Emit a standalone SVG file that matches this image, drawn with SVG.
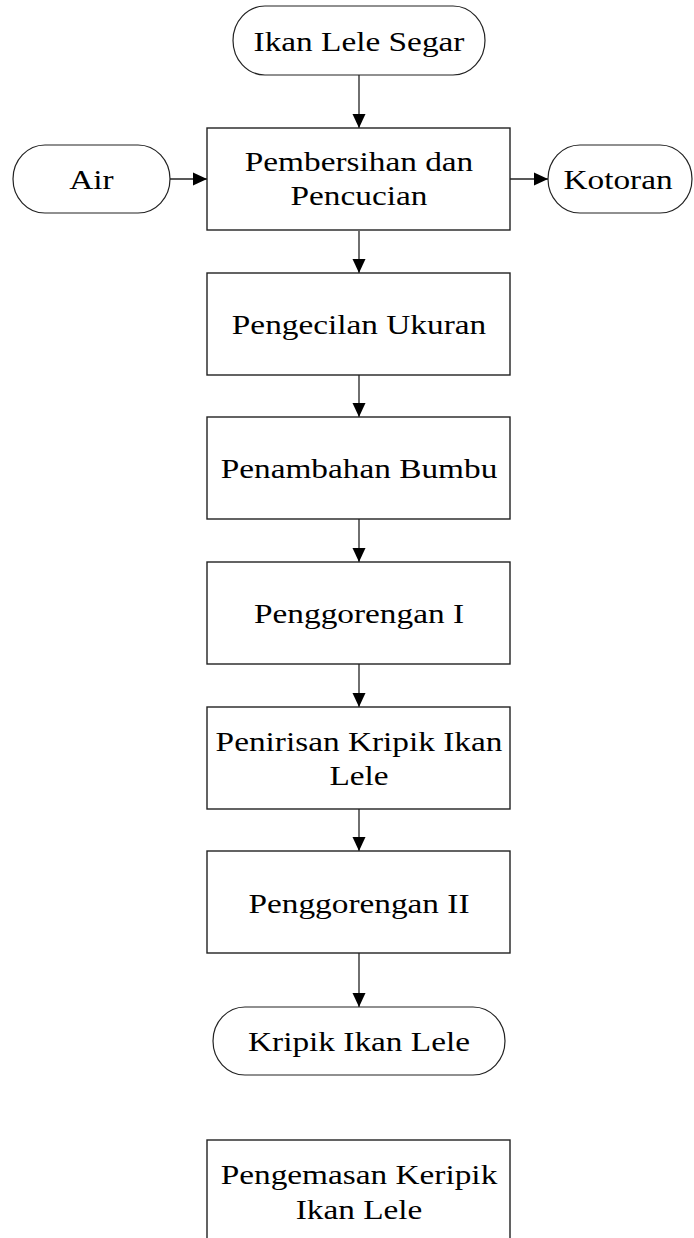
<svg xmlns="http://www.w3.org/2000/svg" width="694" height="1238" viewBox="0 0 694 1238">
<style>
.box{fill:#fff;stroke:#222;stroke-width:1.4}
.term{fill:#fff;stroke:#222;stroke-width:1.2}
.lbl{font-family:"Liberation Serif","Times New Roman",serif;font-size:28px;fill:#000;text-anchor:middle}
.con{stroke:#222;stroke-width:1.3;fill:none;marker-end:url(#ah)}
</style>
<defs>
<marker id="ah" viewBox="0 0 14 14" refX="14" refY="7" markerWidth="14" markerHeight="14" markerUnits="userSpaceOnUse" orient="auto">
<path d="M0,0.5 L14,7 L0,13.5 z" fill="#000"/>
</marker>
</defs>
<rect width="694" height="1238" fill="#fff"/>
<g id="connectors">
<line class="con" x1="359" y1="75" x2="359" y2="128"/>
<line class="con" x1="359" y1="231" x2="359" y2="273"/>
<line class="con" x1="359" y1="375" x2="359" y2="417"/>
<line class="con" x1="359" y1="519" x2="359" y2="562"/>
<line class="con" x1="359" y1="664" x2="359" y2="707"/>
<line class="con" x1="359" y1="809" x2="359" y2="851"/>
<line class="con" x1="359" y1="953" x2="359" y2="1007"/>
<line class="con" x1="170" y1="179" x2="207" y2="179"/>
<line class="con" x1="510" y1="179" x2="548" y2="179"/>
</g>
<g id="n-ikan-lele-segar">
<rect class="term" x="233" y="6" width="252" height="69" rx="32" ry="34.5"/>
<text class="lbl" transform="translate(359,50.5) scale(1.19,1)" x="0" y="0">Ikan Lele Segar</text>
</g>
<g id="n-air">
<rect class="term" x="13" y="145" width="157" height="68" rx="32" ry="34"/>
<text class="lbl" transform="translate(91.5,188.5) scale(1.19,1)" x="0" y="0">Air</text>
</g>
<g id="n-pembersihan">
<rect class="box" x="207" y="128" width="303" height="102"/>
<text class="lbl" transform="translate(359,170.5) scale(1.19,1)" x="0" y="0">Pembersihan dan</text>
<text class="lbl" transform="translate(359,204.5) scale(1.19,1)" x="0" y="0">Pencucian</text>
</g>
<g id="n-kotoran">
<rect class="term" x="548" y="145" width="144" height="68" rx="32" ry="34"/>
<text class="lbl" transform="translate(618,188.5) scale(1.19,1)" x="0" y="0">Kotoran</text>
</g>
<g id="n-pengecilan">
<rect class="box" x="207" y="273" width="303" height="102"/>
<text class="lbl" transform="translate(359,333.5) scale(1.19,1)" x="0" y="0">Pengecilan Ukuran</text>
</g>
<g id="n-penambahan">
<rect class="box" x="207" y="417" width="303" height="102"/>
<text class="lbl" transform="translate(359,477.5) scale(1.19,1)" x="0" y="0">Penambahan Bumbu</text>
</g>
<g id="n-penggorengan1">
<rect class="box" x="207" y="562" width="303" height="102"/>
<text class="lbl" transform="translate(359,622.5) scale(1.19,1)" x="0" y="0">Penggorengan I</text>
</g>
<g id="n-penirisan">
<rect class="box" x="207" y="707" width="303" height="102"/>
<text class="lbl" transform="translate(359,750.5) scale(1.19,1)" x="0" y="0">Penirisan Kripik Ikan</text>
<text class="lbl" transform="translate(359,784.5) scale(1.19,1)" x="0" y="0">Lele</text>
</g>
<g id="n-penggorengan2">
<rect class="box" x="207" y="851" width="303" height="102"/>
<text class="lbl" transform="translate(359,913) scale(1.19,1)" x="0" y="0">Penggorengan II</text>
</g>
<g id="n-kripik">
<rect class="term" x="213" y="1007" width="292" height="68" rx="32" ry="34"/>
<text class="lbl" transform="translate(359,1050.5) scale(1.19,1)" x="0" y="0">Kripik Ikan Lele</text>
</g>
<g id="n-pengemasan">
<rect class="box" x="207" y="1140" width="303" height="102"/>
<text class="lbl" transform="translate(359,1183.5) scale(1.19,1)" x="0" y="0">Pengemasan Keripik</text>
<text class="lbl" transform="translate(359,1218.5) scale(1.19,1)" x="0" y="0">Ikan Lele</text>
</g>
</svg>
